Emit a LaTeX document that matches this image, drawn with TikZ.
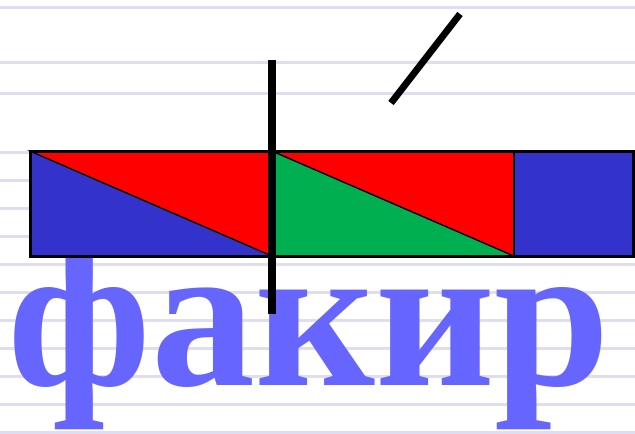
\documentclass[tikz,border=0pt]{standalone}
\usepackage{fontspec}
\newfontfamily\wordfont{Liberation Serif}
\definecolor{myblue}{RGB}{51,51,204}
\definecolor{myred}{RGB}{255,0,0}
\definecolor{mygreen}{RGB}{0,176,80}
\definecolor{wordblue}{RGB}{102,102,255}
\definecolor{ruled}{RGB}{222,222,240}
\begin{document}
\begin{tikzpicture}[x = 0.5pt, y = -0.5pt]
\useasboundingbox (0,0) rectangle (635,433);
\fill[white] (0,0) rectangle (635,433);
\foreach \y in {8,63,93,152,180,208,236,264,292,320,348,376,404,432}
  \draw[ruled, line width = 1.5pt] (0,\y) -- (635,\y);
\node[text = wordblue, font = \wordfont\bfseries\fontsize{104}{104}\selectfont, anchor = base, inner sep = 0pt] (word) at (309,385) {факир};
\coordinate (tl) at (30,151);
\coordinate (bl) at (30,256);
\coordinate (tm) at (272,151);
\coordinate (bm) at (272,256);
\coordinate (tr) at (514,151);
\coordinate (br) at (514,256);
\coordinate (te) at (633,151);
\coordinate (be) at (633,256);
\filldraw[fill = myblue, line width = 0.6pt] (tl) -- (bm) -- (bl) -- cycle;
\filldraw[fill = myred, line width = 0.6pt] (tl) -- (tm) -- (bm) -- cycle;
\filldraw[fill = mygreen, line width = 0.6pt] (tm) -- (br) -- (bm) -- cycle;
\filldraw[fill = myred, line width = 0.6pt] (tm) -- (tr) -- (br) -- cycle;
\filldraw[fill = myblue, line width = 0.6pt] (tr) rectangle (be);
\draw[line width = 1.5pt] (tl) rectangle (be);
\draw[line width = 1.2pt] (tr) -- (br);
\draw[line width = 4pt] (272,60) -- (272,314);
\draw[line width = 3.4pt] (391,103) -- (460,14);
\end{tikzpicture}
\end{document}
